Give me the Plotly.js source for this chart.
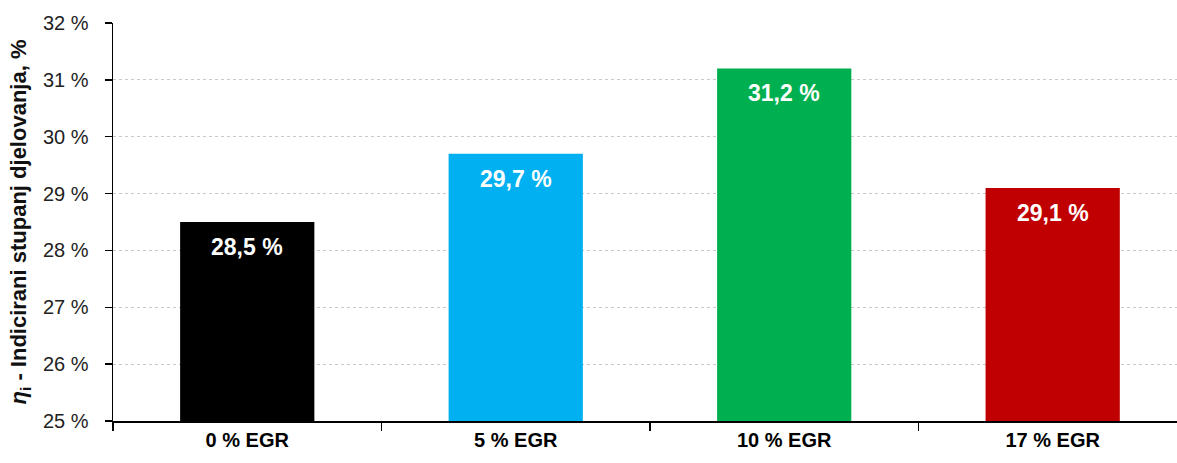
<!DOCTYPE html>
<html><head><meta charset="utf-8">
<script src="https://cdn.plot.ly/plotly-3.0.1.min.js"></script>
<style>html,body{margin:0;padding:0;background:#fff;}#chart{width:1177px;height:463px;}</style>
</head><body><div id="chart"></div>
<script>
const categories = ["0 % EGR", "5 % EGR", "10 % EGR", "17 % EGR"];
const values = [28.5, 29.7, 31.2, 29.1];
const colors = ["#000000", "#00b0f0", "#00b050", "#c00000"];
const yTickVals = [25, 26, 27, 28, 29, 30, 31, 32];
const yTickText = ["25 %", "26 %", "27 %", "28 %", "29 %", "30 %", "31 %", "32 %"];
const yTitle = "<i>η</i><sub>i</sub> - Indicirani stupanj djelovanja, %";

const FONT = "Liberation Sans, Arial, sans-serif";

const trace = {
  type: "bar",
  x: categories,
  y: values,
  marker: {color: colors, line: {width: 0}},
  width: 0.5,
  hoverinfo: "skip"
};

const annotations = categories.map((c, i) => ({
  x: c, y: values[i], xref: "x", yref: "y",
  text: values[i].toFixed(1).replace(".", ",") + " %",
  showarrow: false, yanchor: "top", yshift: -10,
  font: {family: FONT, size: 23, color: "#ffffff", weight: "bold"}
}));

const layout = {
  width: 1177, height: 463,
  margin: {l: 113, r: 0, t: 23, b: 42},
  paper_bgcolor: "#ffffff", plot_bgcolor: "#ffffff",
  separators: ",.",
  showlegend: false,
  xaxis: {
    type: "category",
    range: [-0.5, 3.463],
    tickson: "boundaries",
    ticks: "outside", ticklen: 8, tickwidth: 1.5, tickcolor: "#000",
    showline: true, linecolor: "#000", linewidth: 1.5,
    showgrid: false, zeroline: false,
    tickfont: {family: FONT, size: 20, color: "#000", weight: "bold"}
  },
  yaxis: {
    range: [25, 32],
    tickmode: "array",
    tickvals: yTickVals,
    ticktext: yTickText,
    ticks: "outside", ticklen: 7, tickwidth: 1.5, tickcolor: "#000",
    ticklabelstandoff: 12,
    showline: true, linecolor: "#000", linewidth: 1.5,
    showgrid: true, gridcolor: "#c8c8c8", griddash: "dot", gridwidth: 1,
    zeroline: false,
    tickfont: {family: FONT, size: 20, color: "#222"},
    title: {text: yTitle, standoff: 10, font: {family: FONT, size: 22, color: "#111", weight: "bold"}}
  },
  annotations: annotations
};

Plotly.newPlot("chart", [trace], layout, {displayModeBar: false, staticPlot: true});
</script>
</body></html>
